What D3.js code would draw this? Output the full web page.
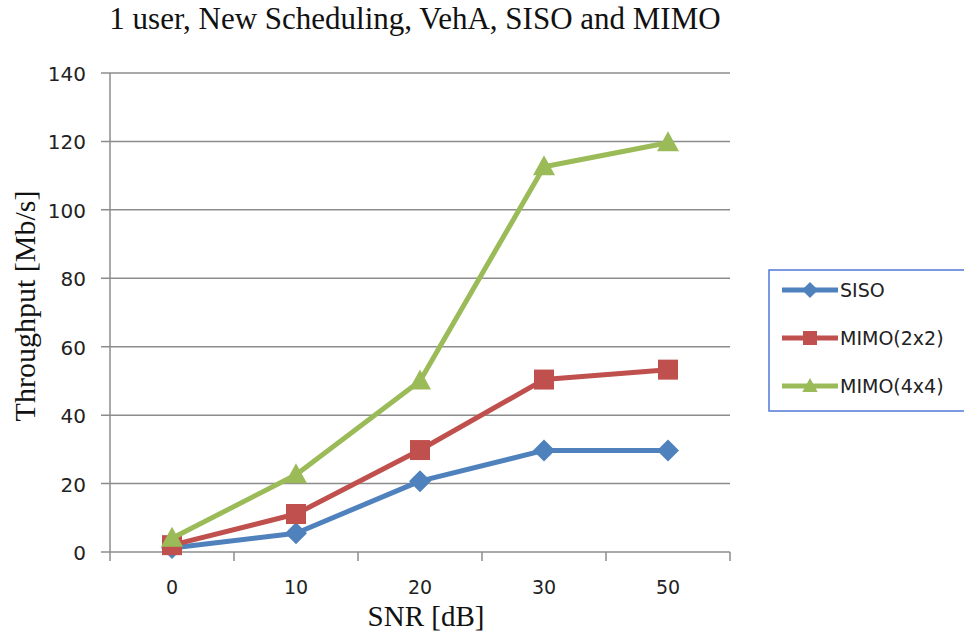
<!DOCTYPE html>
<html>
<head>
<meta charset="utf-8">
<script src="https://cdn.jsdelivr.net/npm/d3@7"></script>
<style>
  body { margin: 0; background: #fff; }
  svg { display: block; }
</style>
</head>
<body>
<svg id="chart" width="964" height="637"></svg>
<script>
var categories = ['0', '10', '20', '30', '50'];
var siso = [1.2, 5.5, 20.7, 29.7, 29.7];
var mimo2 = [2, 11.1, 29.8, 50.4, 53.3];
var mimo4 = [4, 22.6, 50, 112.6, 119.6];
var yTicks = [0, 20, 40, 60, 80, 100, 120, 140];
var seriesNames = ['SISO', 'MIMO(2x2)', 'MIMO(4x4)'];
var colors = ['#4F81BD', '#C0504D', '#9BBB59'];

var svg = d3.select('#chart');
var plotLeft = 110, plotRight = 730, plotTop = 73, plotBottom = 552;
var sansFont = 'DejaVu Sans, sans-serif';
var serifFont = 'Liberation Serif, serif';

var x = d3.scaleBand().domain(categories).range([plotLeft, plotRight]);
var y = d3.scaleLinear().domain([0, 140]).range([plotBottom, plotTop]);

// grid
svg.append('g').selectAll('line').data(yTicks).enter().append('line')
    .attr('x1', plotLeft - 9).attr('x2', plotRight)
    .attr('y1', function (d) { return y(d); })
    .attr('y2', function (d) { return y(d); })
    .style('stroke', '#8c8c8c').style('stroke-width', 1.5);

// y axis line
svg.append('line')
    .attr('x1', plotLeft).attr('x2', plotLeft).attr('y1', plotTop).attr('y2', plotBottom)
    .style('stroke', '#8c8c8c').style('stroke-width', 1.5);

// x ticks at category edges
var xEdges = categories.map(function (c) { return x(c); }).concat([plotRight]);
svg.append('g').selectAll('line').data(xEdges).enter().append('line')
    .attr('x1', function (d) { return d; }).attr('x2', function (d) { return d; })
    .attr('y1', plotBottom).attr('y2', plotBottom + 9)
    .style('stroke', '#8c8c8c').style('stroke-width', 1.5);

// tick labels
svg.append('g').selectAll('text').data(yTicks).enter().append('text')
    .attr('x', 86).attr('y', function (d) { return y(d) + 8; })
    .attr('text-anchor', 'end')
    .style('font-family', sansFont).style('font-size', '20px').style('fill', '#222')
    .text(function (d) { return d; });

svg.append('g').selectAll('text').data(categories).enter().append('text')
    .attr('x', function (d) { return x(d) + x.bandwidth() / 2; }).attr('y', 594)
    .attr('text-anchor', 'middle')
    .style('font-family', sansFont).style('font-size', '19px').style('fill', '#222')
    .text(function (d) { return d; });

// titles
svg.append('text').attr('x', 415).attr('y', 29).attr('text-anchor', 'middle')
    .style('font-family', serifFont).style('font-size', '31px').style('fill', '#111')
    .text('1 user, New Scheduling, VehA, SISO and MIMO');

svg.append('text').attr('x', 426).attr('y', 626).attr('text-anchor', 'middle')
    .style('font-family', serifFont).style('font-size', '29px').style('fill', '#111')
    .text('SNR [dB]');

svg.append('text').attr('transform', 'translate(35,306) rotate(-90)').attr('text-anchor', 'middle')
    .style('font-family', serifFont).style('font-size', '30px').style('fill', '#111')
    .text('Throughput [Mb/s]');

// markers
var markerPath = function (i, s) {
    if (i === 0) return 'M0,' + (-s) + 'L' + s + ',0L0,' + s + 'L' + (-s) + ',0Z';
    if (i === 1) return 'M' + (-s) + ',' + (-s) + 'H' + s + 'V' + s + 'H' + (-s) + 'Z';
    return 'M0,' + (-s * 1.15) + 'L' + (s * 1.1) + ',' + (s * 0.85) + 'L' + (-s * 1.1) + ',' + (s * 0.85) + 'Z';
};

var allSeries = [siso, mimo2, mimo4];
var line = d3.line()
    .x(function (d, i) { return x(categories[i]) + x.bandwidth() / 2; })
    .y(function (d) { return y(d); });

allSeries.forEach(function (vals, si) {
    var g = svg.append('g');
    g.append('path').attr('d', line(vals))
        .style('fill', 'none').style('stroke', colors[si]).style('stroke-width', 5)
        .style('stroke-linejoin', 'round');
    g.selectAll('path.m').data(vals).enter().append('path').attr('class', 'm')
        .attr('transform', function (d, i) { return 'translate(' + (x(categories[i]) + x.bandwidth() / 2) + ',' + y(d) + ')'; })
        .attr('d', markerPath(si, si === 0 ? 11 : 10))
        .style('fill', colors[si]);
});

// legend
var legendY = [290, 338, 386];
var lg = svg.append('g');
lg.append('rect').attr('x', 769).attr('y', 270).attr('width', 210).attr('height', 141)
    .style('fill', '#fff').style('stroke', '#4f78d8').style('stroke-width', 1.5);
seriesNames.forEach(function (name, i) {
    var ly = legendY[i];
    lg.append('line').attr('x1', 782).attr('x2', 838).attr('y1', ly).attr('y2', ly)
        .style('stroke', colors[i]).style('stroke-width', 5);
    lg.append('path').attr('transform', 'translate(810,' + ly + ')')
        .attr('d', markerPath(i, i === 0 ? 8 : 7)).style('fill', colors[i]);
    lg.append('text').attr('x', 840).attr('y', ly + 7)
        .style('font-family', sansFont).style('font-size', '19px').style('fill', '#222')
        .text(name);
});
</script>
</body>
</html>
